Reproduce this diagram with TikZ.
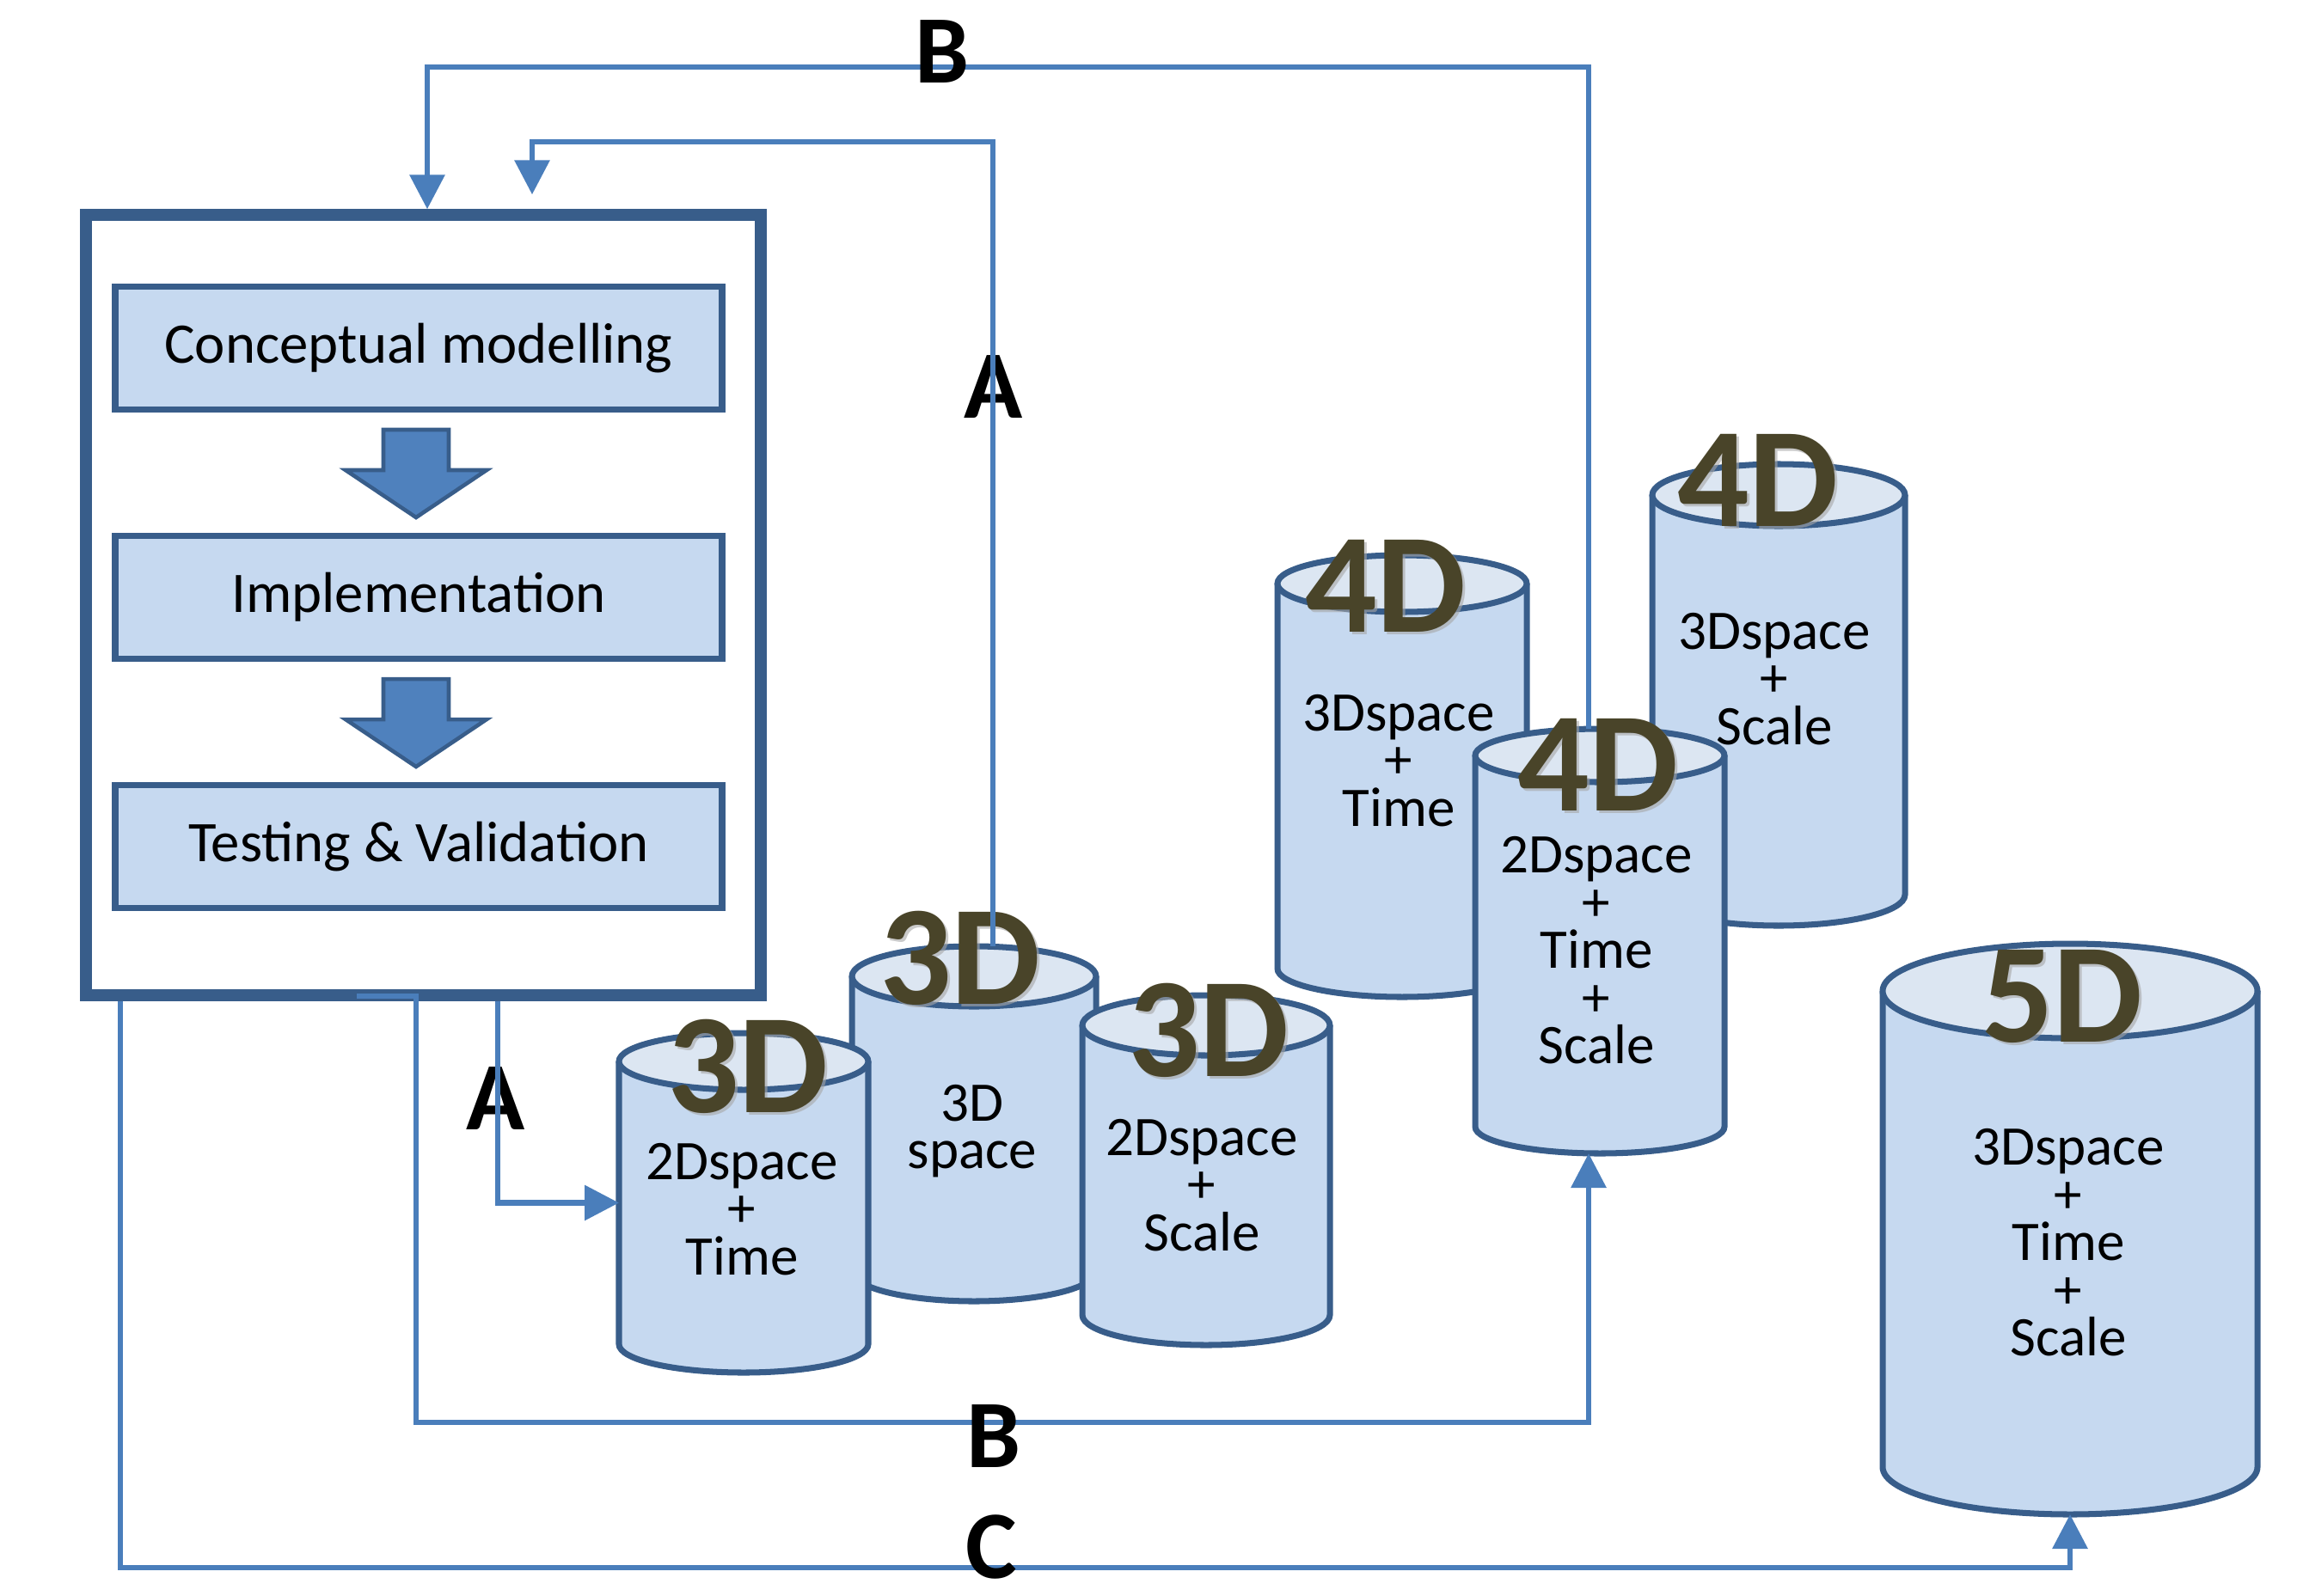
\documentclass[tikz,border=0pt]{standalone}
\usepackage{fontspec}
\setmainfont{Carlito}
\usepackage{tikz}
\usetikzlibrary{
  arrows.meta,
  calc,
  positioning,
}

\definecolor{edgeblue}{RGB}{56,93,138}
\definecolor{lineblue}{RGB}{74,126,187}
\definecolor{paleblue}{RGB}{198,217,240}
\definecolor{capblue}{RGB}{220,230,242}
\definecolor{stepblue}{RGB}{79,129,189}
\definecolor{dimolive}{RGB}{73,68,41}

% data store: name, centre x, top y, bottom y, x radius, y radius
\newcommand{\tank}[6]{%
  \pgfmathsetmacro\tkL{(#2)-(#5)}%
  \pgfmathsetmacro\tkR{(#2)+(#5)}%
  \pgfmathsetmacro\tkM{((#3)+(#4))/2}%
  \pgfmathsetmacro\tkH{(#3)-(#4)+2*(#6)}%
  \pgfmathsetmacro\tkW{2*(#5)}%
  \fill[paleblue] (\tkL,#3) -- (\tkL,#4) arc[start angle=180,end angle=360,x radius=#5,y radius=#6]
    -- (\tkR,#3) arc[start angle=0,end angle=180,x radius=#5,y radius=#6] -- cycle;
  \draw[tankline] (\tkL,#3) -- (\tkL,#4) arc[start angle=180,end angle=360,x radius=#5,y radius=#6] -- (\tkR,#3);
  \draw[tankline,fill=capblue] (#2,#3) ellipse [x radius=#5,y radius=#6];
  \node[inner sep=0,outer sep=0,minimum width=\tkW cm,minimum height=\tkH cm] (#1) at (#2,\tkM) {};
}

% big dimension tag with its shadow: name, position, text
\newcommand{\dimtag}[3]{%
  \node[bigdimshade] (#1-sh) at ($(#2)+(0.03,-0.03)$) {#3};
  \node[bigdim] (#1) at (#2) {#3};
}

% block arrow between two stages, hanging from the given point
\newcommand{\stepdown}[1]{%
  \draw[stepshape] (#1) ++(-0.38,0) -- ++(0.76,0) -- ++(0,-0.47) -- ++(0.44,0)
    -- ++(-0.82,-0.55) -- ++(-0.82,0.55) -- ++(0.44,0) -- cycle;
}

\begin{document}
\begin{tikzpicture}[
  frame/.style={draw=edgeblue, line width=3.8pt, fill=white},
  stage/.style={draw=edgeblue, fill=paleblue, line width=2pt, minimum width=7.06cm,
    minimum height=1.43cm, font=\fontsize{19}{22}\selectfont},
  stepshape/.style={draw=edgeblue, fill=stepblue, line width=1.3pt, line join=miter},
  tankline/.style={draw=edgeblue, line width=2pt},
  tanktext/.style={align=center, inner sep=0, font=\fontsize{18.5}{15.8}\selectfont},
  bigdim/.style={inner sep=0, text=dimolive, font=\bfseries\fontsize{47}{47}\selectfont},
  bigdimshade/.style={inner sep=0, text=gray!70, opacity=.6, font=\bfseries\fontsize{47}{47}\selectfont},
  tag/.style={inner sep=0, font=\bfseries\fontsize{32}{32}\selectfont},
  link/.style={draw=lineblue, line width=1.8pt},
  tip/.style={-{Triangle[length=0.4cm,width=0.4cm]}}
]
\useasboundingbox (0,0) rectangle (26.79,-18.56);

% process frame
\node[frame, minimum width=7.85cm, minimum height=9.08cm] (frame) at (4.925,-7.04) {};
\node[stage] (concept) at (4.87,-4.05) {Conceptual modelling};
\node[stage, below=1.40cm of concept] (impl) {Implementation};
\node[stage, below=1.40cm of impl] (test) {Testing \& Validation};
\stepdown{$(concept.south)+(-0.03,-0.20)$}
\stepdown{$(impl.south)+(-0.03,-0.20)$}

% 3D stores
\tank{t3b}{11.33}{-11.36}{-14.79}{1.42}{0.35}
\node[tanktext] (t3b-txt) at (11.31,-13.16) {3D\\space};
\dimtag{t3b-dim}{11.17,-11.15}{3D}

\tank{t3a}{8.65}{-12.35}{-15.64}{1.45}{0.33}
\node[tanktext] (t3a-txt) at (8.63,-14.07) {2Dspace\\+\\Time};
\dimtag{t3a-dim}{8.70,-12.41}{3D}

\tank{t3c}{14.03}{-11.93}{-15.30}{1.44}{0.35}
\node[tanktext] (t3c-txt) at (13.98,-13.79) {2Dspace\\+\\Scale};
\dimtag{t3c-dim}{14.06,-11.99}{3D}

% 4D stores
\tank{t4a}{16.31}{-6.79}{-11.27}{1.45}{0.33}
\node[tanktext] (t4a-txt) at (16.27,-8.85) {3Dspace\\+\\Time};
\dimtag{t4a-dim}{16.12,-6.82}{4D}

\tank{t4b}{20.69}{-5.76}{-10.41}{1.47}{0.36}
\node[tanktext] (t4b-txt) at (20.64,-7.90) {3Dspace\\+\\Scale};
\dimtag{t4b-dim}{20.45,-5.59}{4D}

\tank{t4c}{18.61}{-8.79}{-13.11}{1.45}{0.31}
\node[tanktext] (t4c-txt) at (18.57,-11.06) {2Dspace\\+\\Time\\+\\Scale};
\dimtag{t4c-dim}{18.59,-8.90}{4D}

% 5D store
\tank{t5}{24.08}{-11.53}{-17.07}{2.18}{0.55}
\node[tanktext] (t5-txt) at (24.06,-14.46) {3Dspace\\+\\Time\\+\\Scale};
\dimtag{t5-dim}{23.99,-11.59}{5D}

% loops back to the process
\node[tag] (labA1) at (11.56,-4.50) {A};
\node[tag] (labA2) at (5.77,-12.78) {A};

\coordinate (ahi) at (6.19,-1.65);
\coordinate (bhi) at (4.97,-0.78);
\coordinate (aLow) at (5.79,0);
\coordinate (bLow) at (4.84,-16.55);
\coordinate (cLow) at (1.40,-18.24);
\coordinate (bfoot) at (frame.south -| bLow);

\draw[link,tip] ([xshift=0.22cm]t3b.north) |- (ahi) -- ([yshift=0.17cm]frame.north -| ahi);
\draw[link,tip] ([xshift=-0.13cm]t4c.north) |- (bhi) -- (bhi |- frame.north);
\draw[link,tip] (frame.south -| aLow) |- (t3a.west);
\draw[link,tip] ([xshift=-0.69cm,yshift=0.06cm]bfoot) -- ([yshift=0.06cm]bfoot) -- (bLow) -| ([xshift=-0.13cm]t4c.south);
\draw[link,tip] (frame.south -| cLow) -- (cLow) -| (t5.south);

\node[tag] (labB1) at (10.96,-0.60) {B};
\node[tag] (labB2) at (11.56,-16.71) {B};
\node[tag] (labC) at (11.53,-18.00) {C};
\end{tikzpicture}
\end{document}
